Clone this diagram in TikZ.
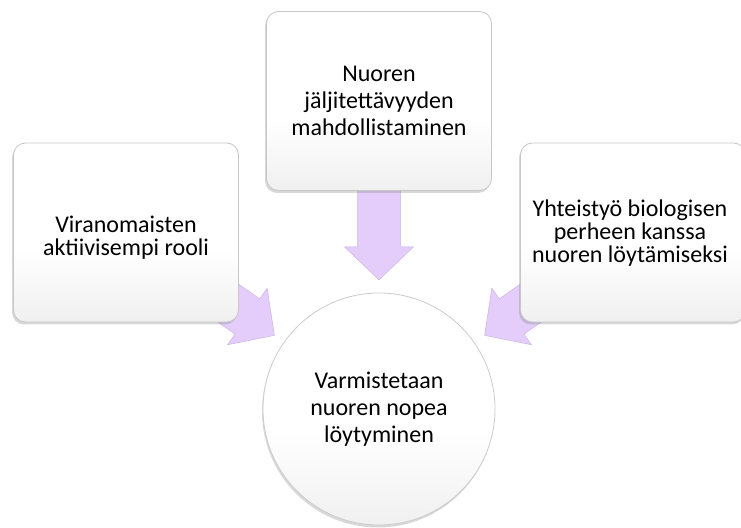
\documentclass[tikz,border=0pt]{standalone}
\usepackage{fontspec}
\setmainfont{Carlito}
\usetikzlibrary{shadows,calc}
\definecolor{lav}{RGB}{228,205,250}
\definecolor{lavd}{RGB}{203,182,228}
\pgfdeclareverticalshading{boxshade}{100bp}{color(0bp)=(black!13); color(28bp)=(black!5); color(45bp)=(white); color(100bp)=(white)}
\pgfdeclarelayer{bg}
\pgfsetlayers{bg,main}
\begin{document}
\begin{tikzpicture}[x=1pt,y=1pt,
  card/.style={draw=black!22, line width=0.8pt, rounded corners=12pt, shading=boxshade,
    minimum width=225pt, minimum height=179pt, inner sep=0pt, align=center,
    drop shadow={opacity=0.3, shadow xshift=-1.5pt, shadow yshift=-2.5pt}},
  hub/.style={circle, draw=black!20, line width=0.8pt, shading=boxshade,
    minimum size=232pt, inner sep=0pt, align=center,
    drop shadow={opacity=0.3, shadow xshift=-1pt, shadow yshift=-2.5pt}},
  blockarrow/.style={fill=lav, draw=lavd, line width=0.5pt},
  bigtxt/.style={font=\fontsize{24}{27}\selectfont},
  sidetxt/.style={font=\fontsize{24}{23}\selectfont, align=center, inner sep=0pt}
]
\useasboundingbox (0,0) rectangle (741,527);
\clip (0,0) rectangle (741,527);

\node[card, bigtxt] (T) at (379,426) {Nuoren\\jäljitettävyyden\\mahdollistaminen};
\node[card] (L) at (126,294.5) {};
\node[sidetxt] (Lt) at ($(L)+(0,-5)$) {Viranomaisten\\aktiivisempi rooli};
\node[card] (R) at (633,294.5) {};
\node[sidetxt] (Rt) at ($(R)+(-3,-1)$) {Yhteistyö biologisen\\perheen kanssa\\nuoren löytämiseksi};
\node[hub, bigtxt] (C) at (379,118) {Varmistetaan\\nuoren nopea\\löytyminen};

\begin{pgfonlayer}{bg}
\fill[white] (0,0) rectangle (741,527);
\coordinate (tT) at ($(T.south)+(0,-89)$);
\coordinate (tL) at ($(L.south east)+(35.5,-13)$);
\coordinate (tR) at ($(R.south west)+(-35.5,-13)$);
\path[blockarrow, shift={(tT)}, rotate=-90]
  (0,0) -- (-33,34.5) -- (-33,21.5) -- (-110,21.5) -- (-110,-21.5) -- (-33,-21.5) -- (-33,-34.5) -- cycle;
\path[blockarrow, shift={(tL)}, rotate=-35]
  (0,0) -- (-33,34.5) -- (-33,21.5) -- (-110,21.5) -- (-110,-21.5) -- (-33,-21.5) -- (-33,-34.5) -- cycle;
\path[blockarrow, shift={(tR)}, rotate=-145]
  (0,0) -- (-33,34.5) -- (-33,21.5) -- (-110,21.5) -- (-110,-21.5) -- (-33,-21.5) -- (-33,-34.5) -- cycle;
\end{pgfonlayer}
\end{tikzpicture}
\end{document}
